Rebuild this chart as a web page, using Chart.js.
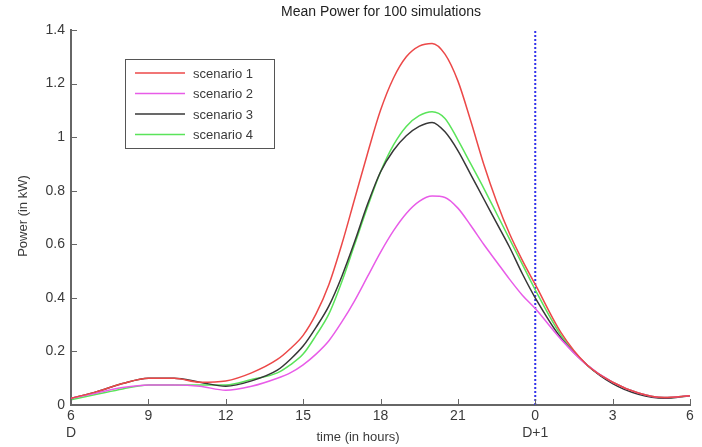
<!DOCTYPE html>
<html>
<head>
<meta charset="utf-8">
<script src="https://cdn.jsdelivr.net/npm/chart.js@4"></script>
<style>
  body { margin: 0; background: #fff; }
  #wrap { width: 702px; height: 447px; }
</style>
</head>
<body>
<div id="wrap"><canvas id="chartData" width="702" height="447"></canvas></div>
<script>
// hours from 6 (day D) to 30 (= 6 on day D+1); half-hour steps around the peak
let hours = [6,7,8,9,10,11,12,13,14,14.5,15,15.5,16,16.5,17,17.5,18,18.5,19,19.5,20,20.5,21,21.5,22,22.5,23,23.5,24,25,26,27,28,29,30];
let scenario1 = [0.025,0.05,0.08,0.10,0.10,0.085,0.09,0.12,0.17,0.21,0.26,0.34,0.45,0.60,0.77,0.94,1.10,1.22,1.30,1.34,1.35,1.31,1.21,1.06,0.90,0.76,0.64,0.54,0.45,0.27,0.15,0.085,0.045,0.028,0.035];
let scenario2 = [0.025,0.045,0.065,0.075,0.075,0.07,0.055,0.07,0.10,0.12,0.15,0.19,0.24,0.31,0.39,0.48,0.57,0.65,0.715,0.76,0.78,0.775,0.735,0.67,0.60,0.535,0.47,0.41,0.36,0.245,0.15,0.085,0.045,0.028,0.035];
let scenario3 = [0.025,0.05,0.08,0.10,0.10,0.085,0.07,0.09,0.13,0.17,0.22,0.29,0.37,0.48,0.61,0.75,0.87,0.95,1.005,1.04,1.055,1.02,0.95,0.86,0.77,0.68,0.59,0.49,0.40,0.25,0.15,0.08,0.04,0.025,0.035];
let scenario4 = [0.02,0.04,0.06,0.075,0.075,0.075,0.075,0.095,0.12,0.15,0.19,0.26,0.34,0.46,0.60,0.74,0.87,0.97,1.04,1.08,1.095,1.07,0.99,0.90,0.81,0.715,0.62,0.525,0.43,0.26,0.15,0.085,0.045,0.028,0.035];
let seriesNames = ["scenario 1","scenario 2","scenario 3","scenario 4"];
let seriesColors = ["rgb(236,72,72)","rgb(232,92,232)","rgb(55,55,55)","rgb(90,228,90)"];
let midnight = 24;
let xTicks = [6,9,12,15,18,21,24,27,30];
let yTicks = [0,0.2,0.4,0.6,0.8,1,1.2,1.4];

let allSeries = [scenario1, scenario2, scenario3, scenario4];
let datasets = allSeries.map((s, i) => ({
    label: seriesNames[i],
    data: hours.map((h, j) => ({x: h, y: s[j]})),
    borderColor: seriesColors[i],
    borderWidth: 1.5,
    pointRadius: 0,
    cubicInterpolationMode: 'monotone',
    fill: false
}));
datasets.push({
    label: 'midnight',
    data: [{x: midnight, y: 0}, {x: midnight, y: 1.4}],
    borderColor: 'rgb(50,50,235)',
    borderWidth: 2,
    borderDash: [2, 2],
    pointRadius: 0,
    fill: false
});

const font = "Liberation Sans, Arial, sans-serif";
const textColor = "#3a3a3a";

const extras = {
    id: 'extras',
    afterDraw(chart) {
        const ctx = chart.ctx;
        const xs = chart.scales.x, ys = chart.scales.y;
        const area = chart.chartArea;
        ctx.save();
        // inward tick marks
        ctx.strokeStyle = "#666";
        ctx.lineWidth = 1;
        xTicks.forEach(v => {
            const px = Math.round(xs.getPixelForValue(v)) + 0.5;
            ctx.beginPath(); ctx.moveTo(px, area.bottom); ctx.lineTo(px, area.bottom - 6); ctx.stroke();
        });
        yTicks.forEach(v => {
            const py = Math.round(ys.getPixelForValue(v)) + 0.5;
            ctx.beginPath(); ctx.moveTo(area.left, py); ctx.lineTo(area.left + 6, py); ctx.stroke();
        });
        // title + axis titles
        ctx.fillStyle = "#222";
        ctx.font = "14px " + font;
        ctx.textAlign = "center";
        ctx.textBaseline = "middle";
        ctx.fillText("Mean Power for 100 simulations", 381, 12);
        ctx.fillStyle = textColor;
        ctx.font = "13px " + font;
        ctx.fillText("time (in hours)", 358, 437);
        ctx.save();
        ctx.translate(23, 216);
        ctx.rotate(-Math.PI / 2);
        ctx.fillText("Power (in kW)", 0, 0);
        ctx.restore();
        // legend box
        const lx = 125, ly = 59, lw = 149, lh = 89;
        ctx.fillStyle = "#fff";
        ctx.fillRect(lx, ly, lw, lh);
        ctx.strokeStyle = "#555";
        ctx.strokeRect(lx + 0.5, ly + 0.5, lw, lh);
        ctx.font = "13px " + font;
        ctx.textAlign = "left";
        seriesNames.forEach((name, i) => {
            const y = ly + 14 + i * 20.5;
            ctx.strokeStyle = seriesColors[i];
            ctx.lineWidth = 1.5;
            ctx.beginPath(); ctx.moveTo(lx + 10, y); ctx.lineTo(lx + 60, y); ctx.stroke();
            ctx.fillStyle = textColor;
            ctx.fillText(name, lx + 68, y + 1);
        });
        ctx.restore();
    }
};

new Chart(document.getElementById('chartData').getContext('2d'), {
    type: 'line',
    data: { datasets: datasets },
    options: {
        responsive: false,
        animation: false,
        layout: { padding: { top: 30, right: 12, left: 0, bottom: 0 } },
        plugins: { legend: { display: false }, title: { display: false }, tooltip: { enabled: false } },
        scales: {
            x: {
                type: 'linear', min: 6, max: 30,
                afterBuildTicks: s => { s.ticks = xTicks.map(v => ({value: v})); },
                afterFit: s => { s.height = 42; },
                ticks: {
                    color: textColor, font: { family: font, size: 14 }, padding: 3, maxRotation: 0,
                    callback: v => v === 6 ? ['6', 'D'] : (v === 24 ? ['0', 'D+1'] : String(v % 24))
                },
                grid: { display: true, drawOnChartArea: false, drawTicks: false },
                border: { display: true, color: '#666', width: 2 }
            },
            y: {
                min: 0, max: 1.4,
                afterBuildTicks: s => { s.ticks = yTicks.map(v => ({value: v})); },
                afterFit: s => { s.width = 71; },
                ticks: { color: textColor, font: { family: font, size: 14 }, padding: 6,
                    callback: v => String(Math.round(v * 10) / 10) },
                grid: { display: true, drawOnChartArea: false, drawTicks: false },
                border: { display: true, color: '#666', width: 2 }
            }
        }
    },
    plugins: [extras]
});
</script>
</body>
</html>
